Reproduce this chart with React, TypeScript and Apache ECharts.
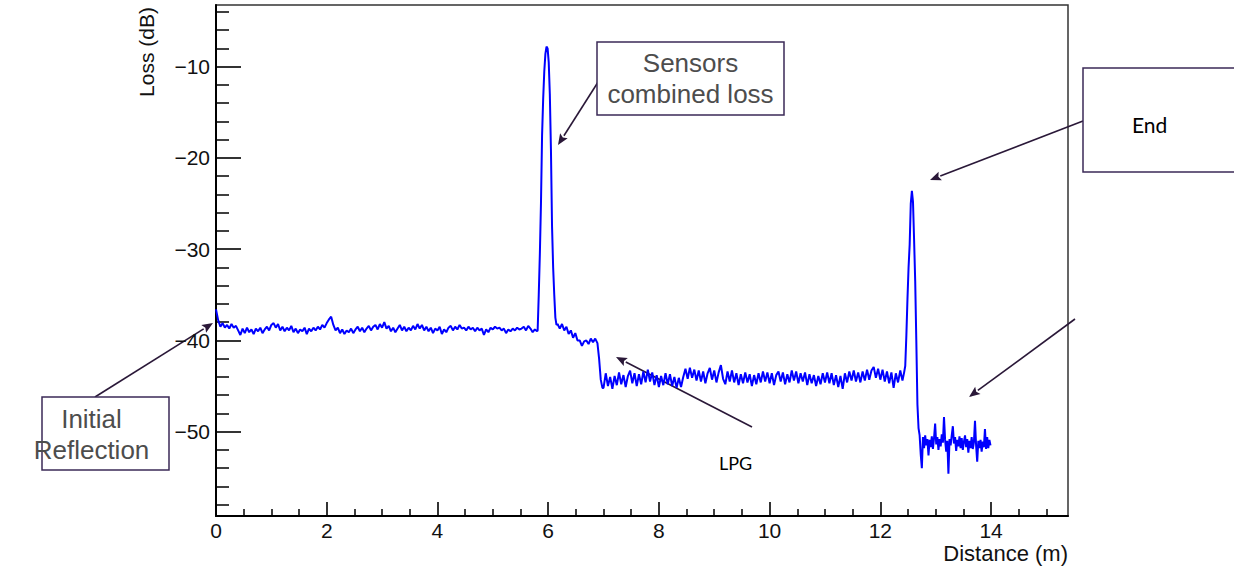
import React, { useEffect, useRef } from "react";
import * as echarts from "echarts";

// ---- Data (Distance in m, Loss in dB) ----
// Segment: launch level 0.00 .. 5.80 m
const launchStart = 0.0;
const launchEnd = 5.8;
const launchLoss = [
  -36.6, -37.8, -38.5, -38.1, -38.6, -38.3, -38.7, -38.2, -38.6, -38.4,
  -38.9, -39.4, -38.7, -39.2, -38.6, -39.1, -38.8, -39.3, -38.7, -39.0,
  -38.6, -39.2, -38.8, -38.5, -38.9, -38.3, -38.1, -38.6, -38.2, -38.9,
  -38.5, -39.0, -38.6, -38.9, -38.4, -39.1, -38.7, -39.2, -38.8, -39.0,
  -38.6, -39.3, -38.7, -39.0, -38.6, -38.9, -38.5, -38.8, -38.3, -38.6,
  -38.1, -37.7, -37.4, -38.3, -38.9, -38.6, -39.2, -38.8, -39.3, -38.9,
  -39.1, -38.7, -39.2, -38.8, -38.5, -39.0, -38.6, -39.1, -38.7, -38.4,
  -38.9, -38.5, -38.3, -38.8, -38.2, -38.6, -38.0, -38.7, -38.4, -39.0,
  -38.6, -39.1, -38.7, -38.3, -38.9, -38.5, -39.0, -38.6, -38.9, -38.4,
  -38.8, -38.2, -38.7, -38.3, -38.9, -38.5, -39.0, -38.6, -39.2, -38.7,
  -38.9, -38.5, -39.3, -38.8, -39.1, -38.6, -38.4, -38.9, -38.5, -38.8,
  -38.3, -38.7, -38.6, -38.9, -38.5, -38.8, -38.6, -39.0, -38.6, -38.9,
  -38.7, -39.4, -38.8, -39.1, -38.6, -38.8, -38.5, -38.7, -38.6, -38.9,
  -38.7, -39.2, -38.8, -39.0, -38.7, -38.9, -38.6, -38.8, -38.7, -38.5,
  -38.9, -38.4, -38.7, -39.1, -38.8, -39.0,
];

// Sensors combined loss peak
const peak1Distance = [
  5.81, 5.83, 5.85, 5.87, 5.89, 5.91, 5.93, 5.95, 5.97, 5.99, 6.01, 6.03,
  6.05, 6.07, 6.09, 6.11, 6.13, 6.15,
];
const peak1Loss = [
  -38.9, -35.0, -30.5, -25.0, -17.5, -13.5, -10.5, -8.6, -7.8, -8.0, -9.5,
  -13.0, -19.0, -27.5, -32.0, -35.0, -37.5, -38.3,
];

// LPG transition 6.17 .. 6.89 m
const lpgStart = 6.17;
const lpgEnd = 6.89;
const lpgLoss = [
  -38.2, -38.7, -38.2, -38.9, -38.5, -39.3, -38.9, -39.7, -39.2, -40.0,
  -40.0, -40.6, -40.1, -40.0, -40.4, -39.8, -40.2, -39.8, -40.3,
];
const dropDistance = [6.92, 6.95, 6.98];
const dropLoss = [-42.0, -44.3, -45.2];

// Fibre level after LPG 7.00 .. 12.40 m
const fibreStart = 7.0;
const fibreEnd = 12.4;
const fibreLoss = [
  -45.2, -43.6, -45.0, -44.0, -45.3, -43.9, -44.9, -43.5, -44.8, -43.8,
  -45.1, -43.9, -43.3, -44.7, -43.6, -45.0, -43.7, -44.8, -43.4, -44.6,
  -43.2, -44.5, -43.5, -44.9, -43.8, -45.1, -43.9, -44.9, -43.6, -44.8,
  -43.7, -45.0, -44.0, -45.2, -44.1, -45.1, -44.0, -43.1, -44.2, -43.0,
  -44.1, -43.2, -44.4, -43.3, -44.5, -43.4, -44.7, -43.6, -43.0, -44.3,
  -43.3, -44.6, -43.5, -42.7, -44.2, -44.8, -43.4, -44.5, -43.3, -44.6,
  -43.6, -44.9, -43.7, -44.7, -43.5, -44.6, -43.7, -45.0, -43.8, -44.8,
  -43.6, -44.6, -43.4, -44.5, -43.5, -44.7, -43.6, -44.9, -43.8, -43.4,
  -44.5, -43.5, -44.8, -43.7, -44.6, -43.3, -44.4, -43.4, -44.7, -43.6,
  -44.5, -43.5, -44.9, -43.7, -44.7, -43.8, -45.0, -43.9, -44.8, -43.6,
  -44.6, -43.5, -44.7, -43.6, -44.9, -43.8, -45.1, -43.9, -45.3, -43.6,
  -44.6, -43.4, -44.4, -43.3, -44.5, -43.5, -44.6, -43.4, -44.4, -43.2,
  -44.3, -43.3, -42.9, -44.1, -43.1, -44.3, -43.2, -44.5, -43.4, -44.7,
  -43.5, -45.2, -43.6, -44.6, -43.3, -44.4,
];

// End reflection peak
const peak2Distance = [
  12.43, 12.45, 12.47, 12.49, 12.51, 12.53, 12.55, 12.57, 12.59, 12.61,
  12.63, 12.65, 12.67, 12.69, 12.71,
];
const peak2Loss = [
  -43.5, -42.8, -39.5, -35.5, -32.0, -29.5, -25.0, -23.6, -24.8, -29.0,
  -33.5, -40.0, -47.0, -49.6, -50.4,
];

// Noise floor after the end 12.73 .. 13.99 m
const floorStart = 12.73;
const floorEnd = 13.99;
const floorLoss = [
  -52.5, -54.0, -50.6, -51.8, -50.4, -51.5, -50.8, -52.6, -50.9, -51.7,
  -50.5, -51.9, -50.7, -49.1, -51.4, -50.6, -52.0, -50.8, -51.6, -50.3,
  -51.2, -48.4, -50.9, -52.2, -51.0, -54.6, -50.8, -51.5, -50.4, -49.4,
  -51.3, -50.6, -52.1, -50.9, -51.6, -50.5, -51.8, -50.7, -52.0, -51.1,
  -50.4, -51.7, -50.8, -52.3, -51.0, -51.8, -50.6, -51.9, -51.2, -48.8,
  -51.5, -53.3, -51.0, -51.8, -50.9, -52.2, -51.1, -51.7, -49.7, -51.9,
  -50.6, -51.8, -50.9, -51.5,
];

// Axis ticks and labels
const xMajorTicks = [0, 2, 4, 6, 8, 10, 12, 14];
const xMinorTicks = [
  0.5, 1, 1.5, 2.5, 3, 3.5, 4.5, 5, 5.5, 6.5, 7, 7.5, 8.5, 9, 9.5, 10.5, 11,
  11.5, 12.5, 13, 13.5, 14.5, 15,
];
const yMajorTicks = [-50, -40, -30, -20, -10];
const yMinorTicks = [
  -58, -56, -54, -52, -48, -46, -44, -42, -38, -36, -34, -32, -28, -26, -24,
  -22, -18, -16, -14, -12, -8, -6, -4,
];
const xRange = [0, 15.39];
const yRange = [-59.24, -3.24];

function spread(start: number, end: number, values: number[]) {
  const n = values.length;
  return values.map((v, i) => [start + ((end - start) * i) / (n - 1), v]);
}
function pair(ds: number[], vs: number[]) {
  return ds.map((d, i) => [d, vs[i]]);
}

const trace = [
  ...spread(launchStart, launchEnd, launchLoss),
  ...pair(peak1Distance, peak1Loss),
  ...spread(lpgStart, lpgEnd, lpgLoss),
  ...pair(dropDistance, dropLoss),
  ...spread(fibreStart, fibreEnd, fibreLoss),
  ...pair(peak2Distance, peak2Loss),
  ...spread(floorStart, floorEnd, floorLoss),
];

const ARROW = "#2a1838";
const BOX = "#3b2a57";
const SANS = "'Liberation Sans', Arial, sans-serif";

function arrow(x1: number, y1: number, x2: number, y2: number) {
  const ang = Math.atan2(y2 - y1, x2 - x1);
  const L = 11;
  const W = 4.5;
  const bx = x2 - L * Math.cos(ang);
  const by = y2 - L * Math.sin(ang);
  const px = -Math.sin(ang) * W;
  const py = Math.cos(ang) * W;
  return {
    type: "group",
    z: 100,
    children: [
      {
        type: "line",
        shape: { x1, y1, x2: bx, y2: by },
        style: { stroke: ARROW, lineWidth: 1.6 },
      },
      {
        type: "polygon",
        shape: {
          points: [
            [x2, y2],
            [bx + px, by + py],
            [bx + 2 * Math.cos(ang), by + 2 * Math.sin(ang)],
            [bx - px, by - py],
          ],
        },
        style: { fill: ARROW },
      },
    ],
  };
}

function boxText(text: string, x: number, y: number) {
  return {
    type: "text",
    z: 101,
    x,
    y,
    style: {
      text,
      align: "center",
      verticalAlign: "middle",
      fontSize: 26,
      fontFamily: SANS,
      fill: "#4d4d4d",
    },
  };
}

export default function App() {
  const ref = useRef<HTMLDivElement>(null);
  useEffect(() => {
    if (!ref.current) return;
    const chart = echarts.init(ref.current, undefined, { renderer: "svg" });
    const minus = (v: number) => String(v).replace("-", "\u2212");
    const axisCommon = {
      type: "value",
      splitLine: { show: false },
    };
    chart.setOption({
      animation: false,
      backgroundColor: "#fff",
      grid: {
        left: 216,
        top: 5,
        right: 166,
        bottom: 50,
        show: true,
        borderColor: "#333",
        borderWidth: 1.5,
        backgroundColor: "transparent",
      },
      xAxis: [
        {
          ...axisCommon,
          min: xRange[0],
          max: xRange[1],
          position: "bottom",
          axisLine: { show: true, onZero: false, lineStyle: { color: "#000", width: 2 } },
          axisTick: {
            show: true,
            inside: true,
            length: 14,
            customValues: xMajorTicks,
            lineStyle: { color: "#000", width: 1.6 },
          },
          axisLabel: {
            customValues: xMajorTicks,
            margin: 4,
            fontSize: 21,
            fontFamily: SANS,
            color: "#111",
          },
        },
        {
          ...axisCommon,
          min: xRange[0],
          max: xRange[1],
          position: "bottom",
          axisLine: { show: false, onZero: false },
          axisTick: {
            show: true,
            inside: true,
            length: 7,
            customValues: xMinorTicks,
            lineStyle: { color: "#000", width: 1.5 },
          },
          axisLabel: { show: false },
        },
      ],
      yAxis: [
        {
          ...axisCommon,
          min: yRange[0],
          max: yRange[1],
          position: "left",
          axisLine: { show: true, onZero: false, lineStyle: { color: "#000", width: 2 } },
          axisTick: {
            show: true,
            inside: true,
            length: 25,
            customValues: yMajorTicks,
            lineStyle: { color: "#000", width: 1.6 },
          },
          axisLabel: {
            customValues: yMajorTicks,
            margin: 6,
            fontSize: 21,
            fontFamily: SANS,
            color: "#111",
            formatter: minus,
          },
        },
        {
          ...axisCommon,
          min: yRange[0],
          max: yRange[1],
          position: "left",
          axisLine: { show: false, onZero: false },
          axisTick: {
            show: true,
            inside: true,
            length: 13,
            customValues: yMinorTicks,
            lineStyle: { color: "#000", width: 1.5 },
          },
          axisLabel: { show: false },
        },
      ],
      series: [
        {
          type: "line",
          xAxisIndex: 0,
          yAxisIndex: 0,
          data: trace,
          showSymbol: false,
          lineStyle: { color: "#0000ff", width: 2 },
          itemStyle: { color: "#0000ff" },
        },
      ],
      graphic: [
        {
          type: "text",
          x: 146,
          y: 7,
          rotation: Math.PI / 2,
          style: {
            text: "Loss (dB)",
            align: "right",
            verticalAlign: "middle",
            fontSize: 21,
            fontFamily: SANS,
            fill: "#111",
          },
        },
        {
          type: "text",
          x: 1068,
          y: 553,
          style: {
            text: "Distance (m)",
            align: "right",
            verticalAlign: "middle",
            fontSize: 22,
            fontFamily: SANS,
            fill: "#111",
          },
        },
        {
          type: "rect",
          z: 100,
          shape: { x: 42, y: 397, width: 127, height: 73 },
          style: { fill: "#fff", stroke: BOX, lineWidth: 1.5 },
        },
        boxText("Initial", 91.5, 419),
        boxText("Reflection", 91.5, 450),
        {
          type: "rect",
          z: 100,
          shape: { x: 597, y: 42, width: 187, height: 73 },
          style: { fill: "#fff", stroke: BOX, lineWidth: 1.5 },
        },
        boxText("Sensors", 690.5, 63),
        boxText("combined loss", 690.5, 94),
        {
          type: "rect",
          z: 100,
          shape: { x: 1083, y: 68, width: 200, height: 104 },
          style: { fill: "#fff", stroke: BOX, lineWidth: 1.5 },
        },
        {
          type: "text",
          z: 101,
          x: 1132,
          y: 124,
          style: {
            text: "End",
            align: "left",
            verticalAlign: "middle",
            fontSize: 21,
            fontFamily: "Lato, 'Open Sans', sans-serif",
            fill: "#000",
          },
        },
        {
          type: "text",
          z: 101,
          x: 719,
          y: 463,
          style: {
            text: "LPG",
            align: "left",
            verticalAlign: "middle",
            fontSize: 18,
            fontFamily: "Lato, 'Open Sans', sans-serif",
            fill: "#000",
          },
        },
        arrow(95, 397, 213, 323),
        arrow(600, 79, 558, 145),
        arrow(1083, 121, 930, 180),
        arrow(1075, 319, 969, 397),
        arrow(752, 427, 616, 357),
      ],
    });
    return () => chart.dispose();
  }, []);
  return (
    <div
      ref={ref}
      style={{ position: "fixed", left: 0, top: 0, width: 1234, height: 566 }}
    />
  );
}
